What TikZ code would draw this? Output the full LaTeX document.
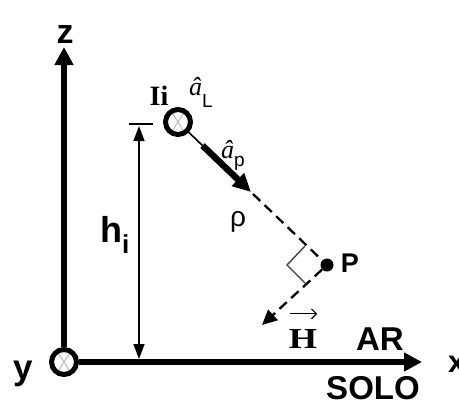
\documentclass[tikz,border=0pt]{standalone}
\usepackage{fontspec}
\setmainfont{Liberation Sans}
\newfontfamily\serifb{Liberation Serif}
\usetikzlibrary{arrows.meta,calc}
\begin{document}
\begin{tikzpicture}[x=1pt,y=-1pt,
  axis/.style={line width=5.5pt,-{Triangle[width=18pt,length=18pt]}},
  wire/.style={circle,draw,line width=5pt,minimum size=25pt,inner sep=0pt},
  cross/.style={gray!55,line width=1pt},
  lbl/.style={inner sep=0pt,anchor=base,font=\bfseries},
  dim/.style={line width=1.4pt,{Triangle[width=11pt,length=15pt]}-{Triangle[width=11pt,length=15pt]}},
  dsh/.style={line width=2.3pt,dash pattern=on 10pt off 6pt},
  dotnode/.style={circle,fill,minimum size=13pt,inner sep=0pt},
  vecarrow/.style={line width=1.2pt,-{Straight Barb[length=5pt,width=10pt]}},
]
\useasboundingbox (0,0) rectangle (459,405);
% nodes
\node[wire] (O) at (64,362) {};
\node[wire] (I) at (178,122) {};
\node[dotnode] (P) at (327,265) {};
\coordinate (zt) at (64,47);
\coordinate (xt) at (422,362);
\coordinate (htop) at (139,126);
\coordinate (hbot) at (139,359);
\coordinate (tl) at (129,124);
\coordinate (tr) at (153,124);
\coordinate (Ht) at (262,325);
% crosses in wires
\foreach \c in {O,I}{
  \draw[cross] ($(\c)+(-5,-8)$) -- ($(\c)+(5,8)$);
  \draw[cross] ($(\c)+(5,-8)$) -- ($(\c)+(-5,8)$);
}
% axes
\draw[axis] (O.north) -- (zt);
\draw[axis] (O.east) -- (xt);
% height dimension
\draw[dim] (htop) -- (hbot);
\draw[line width=1.4pt] (tl) -- (tr);
% unit vector a_p and rho
\draw[line width=1.6pt] ($(I)!14pt!(P)$) -- ($(I)!35pt!(P)$);
\draw[line width=6.5pt,-{Triangle[width=17pt,length=18pt]}] ($(I)!34pt!(P)$) -- ($(I)!101pt!(P)$);
\draw[dsh] ($(I)!104pt!(P)$) -- (P);
% H direction
\draw[dsh,-{Triangle[width=14pt,length=15pt]}] (P) -- (Ht);
% right angle mark
\draw[black!75,line width=1.4pt] ($(P)+(-22,-19)$) -- ($(P)+(-40,0)$) -- ($(P)+(-22,18)$);
% labels
\node[lbl,font=\bfseries\fontsize{34}{34}\selectfont] (lz) at (65,43) {z};
\node[lbl,font=\bfseries\fontsize{35}{35}\selectfont] (ly) at (23,379) {y};
\node[lbl,anchor=base west,font=\bfseries\fontsize{31}{31}\selectfont] (lx) at (448,372) {x};
\node[lbl,font=\bfseries\fontsize{33}{33}\selectfont] (lar) at (380,350) {AR};
\node[lbl,font=\bfseries\fontsize{33}{33}\selectfont] (lsolo) at (373,399) {SOLO};
\node[lbl,font=\bfseries\fontsize{27}{27}\selectfont] (lp) at (350,272) {P};
\node[lbl,font=\serifb\bfseries\fontsize{28}{28}\selectfont] (li) at (159,105) {Ii};
\node[lbl,anchor=base west] (lh) at (100,242) {\fontsize{36}{36}\selectfont\bfseries h\raisebox{-11pt}{\fontsize{26}{26}\selectfont i}};
\node[inner sep=0pt,anchor=base,font=\fontsize{28}{28}\selectfont] (lrho) at (238,226) {ρ};
\node[inner sep=0pt,anchor=base west] (laL) at (189,95) {{\serifb\itshape\fontsize{26}{26}\selectfont â}\raisebox{-12pt}{\fontsize{19}{19}\selectfont L}};
\node[inner sep=0pt,anchor=base west] (lap) at (221,158) {{\serifb\itshape\fontsize{26}{26}\selectfont â}\raisebox{-8pt}{\fontsize{19}{19}\selectfont p}};
\node[inner sep=0pt,anchor=base] (lH) at (303,348) {\scalebox{1.25}[1]{\serifb\bfseries\fontsize{29}{29}\selectfont H}};
\draw[vecarrow] ($(lH.north west)+(1,-15)$) -- ($(lH.north east)+(0,-15)$);
\end{tikzpicture}
\end{document}
